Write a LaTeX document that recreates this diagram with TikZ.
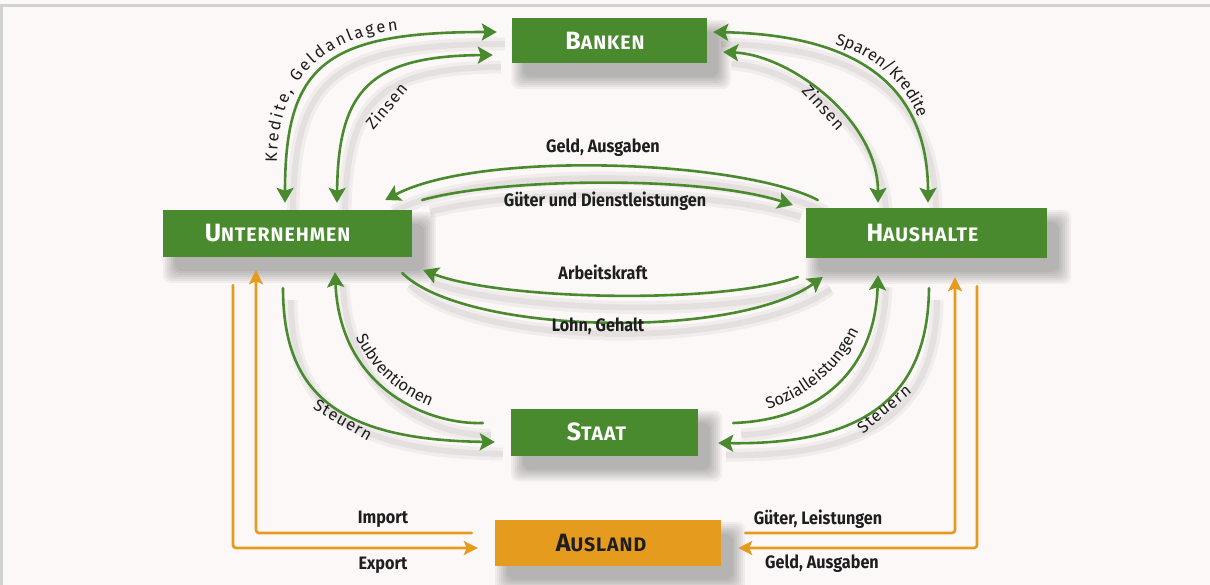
\documentclass[tikz,border=0pt]{standalone}
\usepackage{fontspec}
\setmainfont{Fira Sans}
\newfontfamily\lblfont[FakeStretch=0.9]{Fira Sans}
\newfontfamily\ttlfont[LetterSpace=5]{Fira Sans}
\newfontfamily\crvfam{Fira Sans}
\newfontfamily\rotfam[LetterSpace=6]{Fira Sans}
\usetikzlibrary{arrows.meta,decorations.text,calc}
\definecolor{grn}{HTML}{4A8A2E}
\definecolor{org}{HTML}{E59B1E}
\definecolor{bgc}{HTML}{FCF8F8}
\definecolor{txt}{HTML}{1E1E1E}
\pgfdeclarelayer{bg}\pgfdeclarelayer{shd}\pgfdeclarelayer{arr}
\pgfsetlayers{bg,shd,arr,main}
\newcommand\boxtitle[2]{{\ttlfont\bfseries\fontsize{25}{25}\selectfont #1\fontsize{19.5}{19.5}\selectfont #2}}
\newcommand\crvfont{\crvfam\fontsize{16.5}{16.5}\selectfont}
\tikzset{
  box/.style={fill=grn, text=white, inner sep=0pt},
  obox/.style={fill=org, text=txt, inner sep=0pt},
  lbl/.style={text=txt, inner sep=1pt, font=\lblfont\bfseries\fontsize{18}{18}\selectfont},
  rlbl/.style={text=txt, inner sep=0pt, font=\rotfam\fontsize{16.5}{16.5}\selectfont},
  shadowed/.style={preaction={draw=black, draw opacity=0.045, line width=13pt, arrows=-, transform canvas={shift={(8pt,-12pt)}}},
                   preaction={draw=black, draw opacity=0.05, line width=6pt, arrows=-, transform canvas={shift={(8pt,-12pt)}}}},
  garr/.style={draw=grn, line width=2.6pt, line cap=round, shadowed},
  oarr/.style={draw=org, line width=2.6pt, line cap=round, rounded corners=3pt},
  gtip/.tip={Stealth[length=15pt,width=17pt,inset=3pt]},
  otip/.tip={Stealth[length=14pt,width=14pt,inset=3pt]},
  crv/.style={decorate, decoration={text along path, text color=txt, text align=center, text={|\crvfont|#1}}},
  crvfit/.style={decorate, decoration={text along path, text color=txt, text align=fit to path, text={|\crvfont|#1}}}
}
\begin{document}
\begin{tikzpicture}[x=1pt,y=1pt]
\useasboundingbox (0,0) rectangle (1210,-585);
\begin{pgfonlayer}{bg}
  \fill[bgc] (0,0) rectangle (1210,-585);
  \draw[gray!35, line width=3pt] (1.5,-585) -- (1.5,-6) -- (1210,-6);
\end{pgfonlayer}

% boxes
\node[box, minimum width=195pt, minimum height=45pt] (ban) at (609,-40.5) {\boxtitle{B}{ANKEN}\hspace*{8pt}};
\node[box, minimum width=249pt, minimum height=47pt] (unt) at (287.5,-233.5) {\boxtitle{U}{NTERNEHMEN}\hspace*{20pt}};
\node[box, minimum width=241pt, minimum height=50pt] (hau) at (926.5,-233) {\boxtitle{H}{AUSHALTE}\hspace*{8pt}};
\node[box, minimum width=187pt, minimum height=47pt] (sta) at (604.5,-432) {\boxtitle{S}{TAAT}\hspace*{16pt}};
\node[obox, minimum width=226pt, minimum height=46pt] (aus) at (608,-543) {\boxtitle{A}{USLAND}\hspace*{14pt}};

% box shadows
\begin{pgfonlayer}{shd}
\foreach \n in {ban,unt,hau,sta,aus}{
  \foreach \i in {0,2,...,12}{
    \fill[black, opacity=0.045, rounded corners=8pt] ($(\n.south west)+(12-\i,-14-\i)$) rectangle ($(\n.north east)+(12+\i,-14+\i)$);
  }}
\end{pgfonlayer}

\begin{pgfonlayer}{arr}
% banks
\draw[garr, gtip-gtip] ($(unt.north)+(-2.5,7)$) .. controls (285,-65) and (325,-32) .. ($(ban.west)+(-14.5,8.5)$);
\draw[garr, gtip-gtip] ($(unt.north)+(49.5,7)$) .. controls (338,-90) and (370,-56) .. ($(ban.west)+(-18.5,-14.5)$);
\draw[garr, gtip-gtip] ($(ban.east)+(6.5,8.5)$) .. controls (850,-35) and (928,-80) .. ($(hau.north)+(1.5,5)$);
\draw[garr, gtip-gtip] ($(ban.east)+(16.5,-11.5)$) .. controls (790,-55) and (878,-120) .. ($(hau.north)+(-48.5,5)$);
% middle
\draw[garr, -gtip] ($(hau.west)+(12,33)$) .. controls (740,-160) and (480,-150) .. ($(unt.east)+(-27,33.5)$);
\draw[garr, -gtip] ($(unt.east)+(10,33.5)$) .. controls (500,-178) and (700,-175) .. ($(hau.west)+(-13,28)$);
\draw[garr, -gtip] ($(hau.west)+(-8,-44)$) .. controls (720,-305) and (500,-300) .. ($(unt.east)+(11,-36.5)$);
\draw[garr, -gtip] ($(unt.east)+(-10,-39.5)$) .. controls (465,-335) and (735,-340) .. ($(hau.west)+(17,-44)$);
% state
\draw[garr, -gtip] ($(sta.west)+(-28,9)$) .. controls (430,-425) and (340,-390) .. ($(unt.south)+(47.5,-15)$);
\draw[garr, -gtip] ($(unt.south)+(-4.5,-31)$) .. controls (283,-395) and (340,-440) .. ($(sta.west)+(-16,-10)$);
\draw[garr, -gtip] ($(sta.east)+(35,9)$) .. controls (820,-420) and (875,-370) .. ($(hau.south)+(-48.5,-17)$);
\draw[garr, -gtip] ($(hau.south)+(2.5,-30)$) .. controls (928,-400) and (860,-445) .. ($(sta.east)+(20,-11)$);
% foreign
\draw[oarr, -otip] ($(aus.west)+(-23,10)$) -| ($(unt.south)+(-31.5,-13)$);
\draw[oarr, -otip] ($(unt.south)+(-54.5,-28)$) |- ($(aus.west)+(-17,-5)$);
\draw[oarr, -otip] ($(aus.east)+(24,10)$) -| ($(hau.south)+(28.5,-19)$);
\draw[oarr, -otip] ($(hau.south)+(50.5,-28)$) |- ($(aus.east)+(17,-5)$);
\end{pgfonlayer}

% curved labels
\path[crvfit={Kredite, Geldanlagen}] (277,-163) .. controls (277,-90) and (312,-40) .. (398,-30);
\path[crv={Sparen/Kredite}] (826,-42) .. controls (870,-52) and (908,-80) .. (921,-127);
\path[crv={Subventionen}] (347,-314) .. controls (362,-365) and (395,-398) .. (454,-414);
\path[crv={Sozialleistungen}] (748,-415) .. controls (800,-402) and (843,-376) .. (867,-312);
% short rotated labels
\node[rlbl, rotate=50] (lz1) at (386,-106) {Zinsen};
\node[rlbl, rotate=-48] (lz2) at (824,-107) {Zinsen};
\node[rlbl, rotate=-30] (ls1) at (343,-420) {Steuern};
\node[rlbl, rotate=40] (ls2) at (884,-409) {Steuern};

% straight labels
\node[lbl] (l1) at (603,-148) {Geld, Ausgaben};
\node[lbl] (l2) at (605,-201) {Güter und Dienstleistungen};
\node[lbl] (l3) at (603,-272) {Arbeitskraft};
\node[lbl] (l4) at (598,-326) {Lohn, Gehalt};
\node[lbl] (l5) at (383,-519) {Import};
\node[lbl] (l6) at (383,-565) {Export};
\node[lbl] (l7) at (818,-519) {Güter, Leistungen};
\node[lbl] (l8) at (822,-564) {Geld, Ausgaben};
\end{tikzpicture}
\end{document}
